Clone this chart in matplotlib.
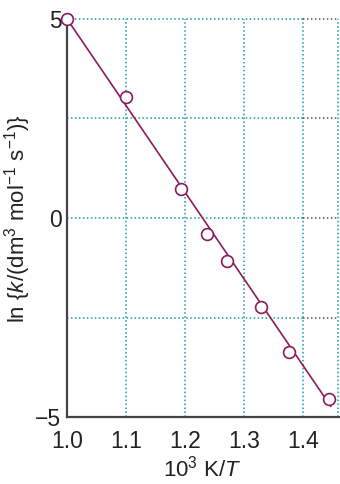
import matplotlib
matplotlib.use("Agg")
import matplotlib.pyplot as plt

plt.rcParams['font.family'] = ['Liberation Sans', 'DejaVu Sans']
plt.rcParams['mathtext.fontset'] = 'custom'
plt.rcParams['mathtext.rm'] = 'Liberation Sans'
plt.rcParams['mathtext.it'] = 'Liberation Sans:italic'
plt.rcParams['mathtext.bf'] = 'Liberation Sans:bold'

# data
inv_T = [1.0, 1.1, 1.193, 1.238, 1.271, 1.329, 1.376, 1.445]
ln_k = [5.0, 3.04, 0.73, -0.39, -1.09, -2.24, -3.37, -4.55]
fit_x = [1.0, 1.447]
fit_y = [5.0, -4.72]
x_ticks = [1.0, 1.1, 1.2, 1.3, 1.4]
x_ticklabels = ["1.0", "1.1", "1.2", "1.3", "1.4"]
y_ticks = [-5, 0, 5]
y_ticklabels = ["\u22125", "0", "5"]
v_grid = [1.1, 1.2, 1.3, 1.4, 1.46]
h_grid = [-2.5, 0, 2.5, 5]
grid_split = 1.4
x_lim = (1.0, 1.46)
y_lim = (-5, 5)

teal = '#1a9a9a'
grey = '#555555'
maroon = '#8c1a5c'

fig = plt.figure(figsize=(3.4, 4.84), dpi=100)
ax = fig.add_axes([0.197, 0.138, 0.798, 0.823])
ax.set_xlim(*x_lim)
ax.set_ylim(*y_lim)

dot = (0, (1, 1.6))
for xv in v_grid:
    ax.plot([xv, xv], y_lim, color=teal, lw=1.1, ls=dot, zorder=1, clip_on=False)
for yv in h_grid:
    ax.plot([x_lim[0], grid_split], [yv, yv], color=teal, lw=1.1, ls=dot, zorder=1, clip_on=False)
    ax.plot([grid_split, x_lim[1]], [yv, yv], color=grey, lw=1.1, ls=dot, zorder=1, clip_on=False)

ax.plot(fit_x, fit_y, color=maroon, lw=1.2, zorder=2, clip_on=False)
ax.plot(inv_T, ln_k, ls='none', marker='o', ms=8.5, mfc='white', mec=maroon,
        mew=1.2, zorder=3, clip_on=False)

for s in ['top', 'right']:
    ax.spines[s].set_visible(False)
for s in ['left', 'bottom']:
    ax.spines[s].set_color('#444444')
    ax.spines[s].set_linewidth(1.6)
ax.spines['bottom'].set_bounds(x_lim[0], 1.462)

ax.set_xticks(x_ticks)
ax.set_xticklabels(x_ticklabels)
ax.set_yticks(y_ticks)
ax.set_yticklabels(y_ticklabels)
ax.tick_params(axis='both', length=0, labelsize=16.5, colors='#222222')
ax.tick_params(axis='x', pad=9)
ax.tick_params(axis='y', pad=4)

ax.set_xlabel(r"10$^3$ K/$\it{T}$", fontsize=16, color='#222222', labelpad=2)
ax.set_ylabel(r"ln {$\it{k}$/(dm$^3$ mol$^{-1}$ s$^{-1}$)}", fontsize=16,
              color='#222222', labelpad=2)

fig.savefig("out.png", dpi=100)
